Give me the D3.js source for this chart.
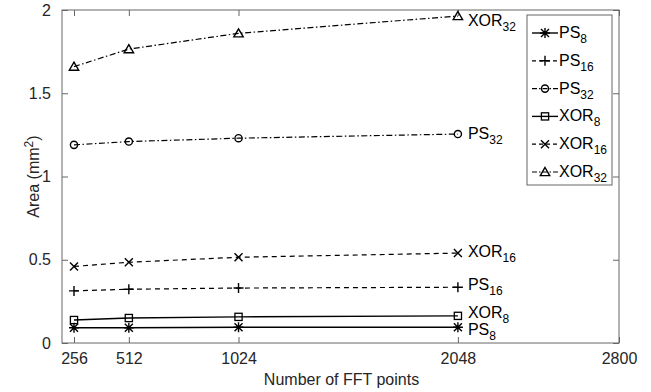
<!DOCTYPE html>
<html>
<head>
<meta charset="utf-8">
<script src="https://cdn.jsdelivr.net/npm/d3@7"></script>
<style>
  body { margin: 0; background: #fff; }
  text { font-family: "Liberation Sans", Arial, sans-serif; }
</style>
</head>
<body>
<div id="chart"></div>
<script>
// data
const nfft = [256, 512, 1024, 2048];
const ps8 = [0.092, 0.092, 0.095, 0.095];
const ps16 = [0.313, 0.323, 0.33, 0.335];
const ps32 = [1.19, 1.21, 1.23, 1.255];
const xor8 = [0.138, 0.15, 0.157, 0.163];
const xor16 = [0.46, 0.485, 0.515, 0.54];
const xor32 = [1.66, 1.765, 1.86, 1.964];
const xTicks = [256, 512, 1024, 2048, 2800];
const yTicks = [0, 0.5, 1, 1.5, 2];

const series = [
  {name: 'PS', sub: '8', values: ps8, marker: 'star', dash: null, labelDy: 8},
  {name: 'PS', sub: '16', values: ps16, marker: 'plus', dash: '5,4', labelDy: 3},
  {name: 'PS', sub: '32', values: ps32, marker: 'circle', dash: '6,2.5,1.5,2.5', labelDy: 5},
  {name: 'XOR', sub: '8', values: xor8, marker: 'square', dash: null, labelDy: 2},
  {name: 'XOR', sub: '16', values: xor16, marker: 'cross', dash: '5,4', labelDy: 4},
  {name: 'XOR', sub: '32', values: xor32, marker: 'triangle', dash: '6,2.5,1.5,2.5', labelDy: 10},
];

const W = 651, H = 392;
const m = {left: 62, right: 32, top: 10, bottom: 49};
const iw = W - m.left - m.right, ih = H - m.top - m.bottom;

const svg = d3.select('#chart').append('svg')
  .attr('width', W).attr('height', H);
const g = svg.append('g').attr('transform', `translate(${m.left},${m.top})`);

const x = d3.scaleLinear().domain([200, 2800]).range([0, iw]);
const y = d3.scaleLinear().domain([0, 2]).range([ih, 0]);

const axisColor = '#666';
const textColor = '#262626';

function styleAxis(sel) {
  sel.select('.domain').remove();
  sel.selectAll('line').attr('stroke', axisColor);
  sel.selectAll('text').attr('fill', textColor).style('font-size', '16px');
}

g.append('g').attr('transform', `translate(0,${ih})`)
  .call(d3.axisBottom(x).tickValues(xTicks).tickSize(-6).tickPadding(10).tickFormat(d3.format('d')))
  .call(styleAxis);
g.append('g')
  .call(d3.axisTop(x).tickValues(xTicks).tickSize(-6).tickFormat(''))
  .call(styleAxis);
g.append('g')
  .call(d3.axisLeft(y).tickValues(yTicks).tickSize(-6).tickPadding(11).tickFormat(d3.format('')))
  .call(styleAxis);
g.append('g').attr('transform', `translate(${iw},0)`)
  .call(d3.axisRight(y).tickValues(yTicks).tickSize(-6).tickFormat(''))
  .call(styleAxis);

// box
g.append('rect').attr('width', iw).attr('height', ih)
  .attr('fill', 'none').attr('stroke', axisColor).attr('stroke-width', 1);

// axis labels
svg.append('text')
  .attr('x', m.left + iw / 2 + 1).attr('y', 385)
  .attr('text-anchor', 'middle').attr('fill', textColor).style('font-size', '16px')
  .text('Number of FFT points');

const yl = svg.append('text')
  .attr('transform', `translate(39,${m.top + ih / 2}) rotate(-90)`)
  .attr('text-anchor', 'middle').attr('fill', textColor).style('font-size', '16px');
yl.append('tspan').text('Area (mm');
yl.append('tspan').attr('dy', -6).style('font-size', '12px').text('2');
yl.append('tspan').attr('dy', 6).text(')');

function drawMarker(sel, type) {
  const s = 4;
  const p = d3.path();
  if (type === 'circle') {
    sel.append('circle').attr('r', 3.6).attr('fill', 'none').attr('stroke', '#000').attr('stroke-width', 1.4);
    return;
  }
  if (type === 'square') {
    sel.append('rect').attr('x', -3.6).attr('y', -3.6).attr('width', 7.2).attr('height', 7.2)
      .attr('fill', 'none').attr('stroke', '#000').attr('stroke-width', 1.3);
    return;
  }
  if (type === 'triangle') {
    p.moveTo(0, -4.5); p.lineTo(4.7, 3.6); p.lineTo(-4.7, 3.6); p.closePath();
  }
  if (type === 'plus' || type === 'star') {
    p.moveTo(-s - 1, 0); p.lineTo(s + 1, 0); p.moveTo(0, -s - 1); p.lineTo(0, s + 1);
  }
  if (type === 'cross' || type === 'star') {
    p.moveTo(-s, -s); p.lineTo(s, s); p.moveTo(-s, s); p.lineTo(s, -s);
  }
  sel.append('path').attr('d', p.toString())
    .attr('stroke', '#000').attr('stroke-width', 1.4).attr('fill', 'none');
}

const line = d3.line().x((d, i) => x(nfft[i])).y(d => y(d));

series.forEach(s => {
  g.append('path').datum(s.values)
    .attr('d', line)
    .attr('fill', 'none').attr('stroke', '#000')
    .attr('stroke-width', s.dash ? 1.2 : 1.4)
    .attr('stroke-dasharray', s.dash);
  s.values.forEach((v, i) => {
    const mk = g.append('g').attr('transform', `translate(${x(nfft[i])},${y(v)})`);
    drawMarker(mk, s.marker);
  });
  const last = s.values[s.values.length - 1];
  const t = g.append('text')
    .attr('x', x(2048) + 10).attr('y', y(last) + s.labelDy)
    .attr('fill', '#000').style('font-size', '16px');
  t.append('tspan').text(s.name);
  t.append('tspan').attr('dy', 5).style('font-size', '12px').text(s.sub);
});

// legend
const lg = svg.append('g').attr('transform', 'translate(527,15)');
lg.append('rect').attr('width', 85).attr('height', 170)
  .attr('fill', '#fff').attr('stroke', axisColor).attr('stroke-width', 1);
series.forEach((s, i) => {
  const row = lg.append('g').attr('transform', `translate(0,${18 + i * 27.8})`);
  row.append('line').attr('x1', 5).attr('x2', 31)
    .attr('stroke', '#000').attr('stroke-width', s.dash ? 1.2 : 1.4)
    .attr('stroke-dasharray', s.dash ? (s.dash.length > 4 ? '5,2,1.5,2' : '4,3') : null);
  drawMarker(row.append('g').attr('transform', 'translate(18,0)'), s.marker);
  const t = row.append('text').attr('x', 32).attr('y', 5)
    .attr('fill', '#000').style('font-size', '16px');
  t.append('tspan').text(s.name);
  t.append('tspan').attr('dy', 5).style('font-size', '12px').text(s.sub);
});
</script>
</body>
</html>
